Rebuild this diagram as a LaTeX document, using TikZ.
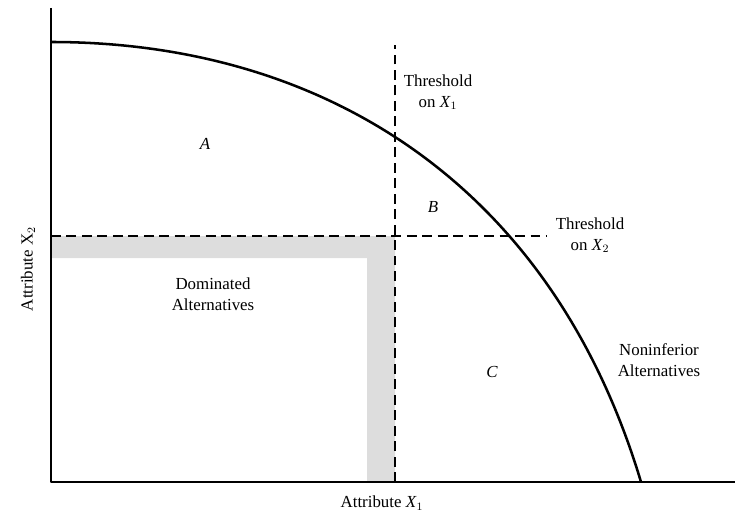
\documentclass[tikz,border=0pt]{standalone}
\usepackage{fontspec}
\setmainfont{Liberation Serif}
\usepackage{tikz}
\usetikzlibrary{arrows.meta}

\tikzset{
  lbl/.style={font=\fontsize{12}{15}\selectfont, align=center, inner sep=1pt},
  region/.style={font=\fontsize{12}{15}\selectfont\itshape, inner sep=1pt},
  thr/.style={dash pattern=on 7pt off 4pt, line width=0.9pt},
}

\begin{document}
\begin{tikzpicture}[x=0.025cm, y=0.025cm, line cap=butt, line join=round]
\useasboundingbox (-51,-32) rectangle (684,482);

% Punti
\coordinate (O) at (0,0);
\coordinate (ytop) at (0,474);
\coordinate (xend) at (684,0);
\coordinate (f0) at (0,440);
\coordinate (f1) at (590,0);
\coordinate (t1a) at (344,0);
\coordinate (t1b) at (344,437);
\coordinate (t2a) at (0,246);
\coordinate (t2b) at (496,246);

% Zona dominata (ombreggiata)
\fill[gray!27] (0,246) -- (344,246) -- (344,0) -- (316,0) -- (316,224) -- (0,224) -- cycle;

% Soglie
\draw[thr] (t1a) -- (t1b);
\draw[thr] (t2a) -- (t2b);

% Assi
\draw[line width=1pt] (ytop) -- (O) -- (xend);

% Frontiera
\draw[line width=1.8pt] (f0) .. controls (270,440) and (500,300) .. (f1);

% Etichette
\node[region] (A) at (154,338) {A};
\node[region] (B) at (382,275) {B};
\node[region] (C) at (441,110) {C};
\node[lbl] (th1) at (387,390) {Threshold\\on \textit{X}$_1$};
\node[lbl] (th2) at (539,247) {Threshold\\on \textit{X}$_2$};
\node[lbl] (dom) at (162,188) {Dominated\\Alternatives};
\node[lbl] (non) at (608,122) {Noninferior\\Alternatives};
\node[lbl] (xlab) at (331,-21) {Attribute \textit{X}$_1$};
\node[lbl, rotate=90] (ylab) at (-23,213) {Attribute X$_2$};

\end{tikzpicture}
\end{document}
